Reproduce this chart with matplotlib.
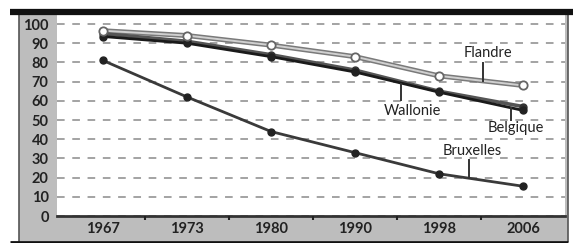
import matplotlib
matplotlib.use("Agg")
import matplotlib.pyplot as plt
from matplotlib.patches import Rectangle
from matplotlib.lines import Line2D
import numpy as np

years = ["1967", "1973", "1980", "1990", "1998", "2006"]
flandre = [96.5, 94, 89, 83, 73, 68]
belgique = [95, 91, 84, 76, 65, 57]
wallonie = [93.5, 90, 83, 75, 64.5, 55]
bruxelles = [81, 62, 44, 33, 22, 15.5]
yticks = [0, 10, 20, 30, 40, 50, 60, 70, 80, 90, 100]

plt.rcParams['font.family'] = ['Lato', 'DejaVu Sans']

W, H = 581, 243
fig = plt.figure(figsize=(W / 100, H / 100), dpi=100)
fig.patch.set_facecolor('white')

def fx(px):
    return px / W

def fy(py):
    return 1 - py / H

# gray frame
fig.add_artist(Rectangle((fx(19), fy(241)), fx(568) - fx(19), fy(14) - fy(241),
                         transform=fig.transFigure, facecolor='#bdbdbd',
                         edgecolor='none', zorder=-5))
fig.add_artist(Line2D([fx(19), fx(19)], [fy(241), fy(14)], color='#555555', lw=1.2,
                      transform=fig.transFigure, zorder=-4))
fig.add_artist(Line2D([fx(568), fx(568)], [fy(241), fy(14)], color='#555555', lw=1.2,
                      transform=fig.transFigure, zorder=-4))
fig.add_artist(Line2D([fx(10), fx(573)], [fy(12), fy(12)], color='#111111', lw=4.5,
                      transform=fig.transFigure, solid_capstyle='butt', zorder=5))
fig.add_artist(Line2D([fx(10), fx(568)], [fy(241.5), fy(241.5)], color='#111111', lw=2,
                      transform=fig.transFigure, solid_capstyle='butt', zorder=5))

ax = fig.add_axes([fx(57), fy(216), fx(565) - fx(57), fy(15) - fy(216)])
ax.set_zorder(1)
ax.set_facecolor('white')
x = np.arange(len(years))

for v in yticks:
    ax.axhline(v, color='#8a8a8a', lw=1.1, ls=(0, (5, 5)), zorder=1)

# Flandre
ax.plot(x, flandre, color='#7a7a7a', lw=3.6, zorder=3, solid_capstyle='round')
ax.plot(x, flandre, color='#d0d0d0', lw=1.4, zorder=3.1, solid_capstyle='round')
ax.plot(x, flandre, ls='none', marker='o', ms=6, mfc='white', mec='#666666', mew=1.3, zorder=4)
# Belgique
ax.plot(x, belgique, color='#555555', lw=2.6, zorder=3, marker='o', ms=5,
        mfc='#333333', mec='#333333')
# Wallonie
ax.plot(x, wallonie, color='#1a1a1a', lw=2.0, zorder=3.2, marker='o', ms=5,
        mfc='#222222', mec='#222222')
# Bruxelles
ax.plot(x, bruxelles, color='#3a3a3a', lw=2.0, zorder=3, marker='o', ms=5,
        mfc='#222222', mec='#222222')

lab_kw = dict(fontsize=10.5, color='#222222', ha='center', va='center')
# annotations
ax.plot([4.52, 4.52], [70.4, 79.7], color='#333333', lw=1.4, zorder=3.5)
ax.text(4.58, 85, "Flandre", **lab_kw)
ax.plot([3.55, 3.55], [69, 60.4], color='#333333', lw=1.4, zorder=3.5)
ax.text(3.68, 54.7, "Wallonie", **lab_kw)
ax.plot([4.86, 4.86], [56, 50], color='#333333', lw=1.4, zorder=3.5)
ax.text(4.92, 45.8, "Belgique", **lab_kw)
ax.plot([4.36, 4.36], [19.7, 29], color='#333333', lw=1.4, zorder=3.5)
ax.text(4.4, 33.9, "Bruxelles", **lab_kw)

ax.set_xlim(-0.548, 5.5)
ax.set_ylim(0, 104.7)
ax.set_xticks(x)
ax.set_xticklabels(years, fontsize=10.5, color='#222222', fontweight='bold')
ax.set_xticks(x[:-1] + 0.5, minor=True)
ax.set_yticks(yticks)
ax.set_yticklabels([str(v) for v in yticks], fontsize=10.5, color='#222222', fontweight='bold')
ax.tick_params(axis='x', which='major', length=0, pad=4)
ax.tick_params(axis='x', which='minor', length=3, width=1.5, color='#222222', direction='out')
ax.tick_params(axis='y', length=0, pad=6)
for s in ['top', 'right', 'left']:
    ax.spines[s].set_visible(False)
ax.spines['bottom'].set_color('#333333')
ax.spines['bottom'].set_linewidth(2)
ax.set_axisbelow(False)

fig.savefig("out.png", dpi=100)
